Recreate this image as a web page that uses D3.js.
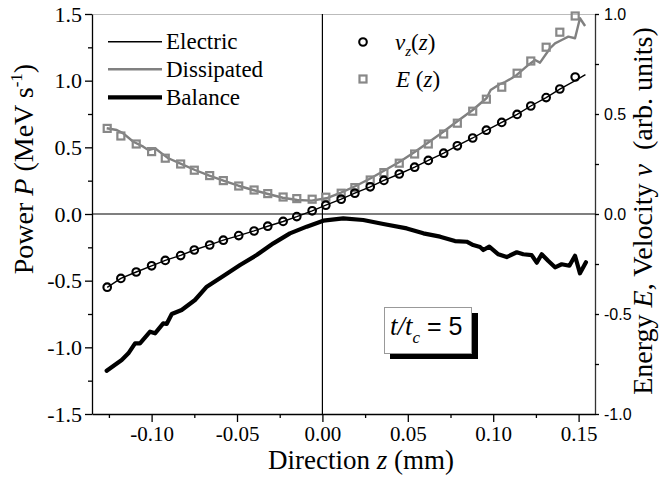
<!DOCTYPE html>
<html>
<head>
<meta charset="utf-8">
<script src="https://cdn.jsdelivr.net/npm/d3@7"></script>
<style>
  html, body { margin: 0; padding: 0; background: #fff; }
  svg { display: block; }
</style>
</head>
<body>
<script>
// 数据：数值
// v_z(z) 圆点与 E(z) 方块（右轴，任意单位）
const zMarker = [-0.126, -0.118, -0.109, -0.100, -0.092, -0.083, -0.075, -0.066, -0.058, -0.049, -0.040,
  -0.032, -0.023, -0.015, -0.006, 0.002, 0.011, 0.019, 0.028, 0.036, 0.045, 0.054,
  0.062, 0.071, 0.079, 0.088, 0.096, 0.105, 0.114, 0.122, 0.131, 0.139, 0.148];
const velocity = [-0.366, -0.322, -0.290, -0.259, -0.232, -0.208, -0.180, -0.155, -0.131, -0.108, -0.085,
  -0.061, -0.037, -0.013, 0.016, 0.044, 0.074, 0.104, 0.136, 0.168, 0.200, 0.234,
  0.268, 0.304, 0.341, 0.380, 0.419, 0.458, 0.498, 0.540, 0.582, 0.625, 0.685];
const energy = [0.428, 0.390, 0.350, 0.312, 0.279, 0.250, 0.219, 0.192, 0.167, 0.140, 0.120,
  0.102, 0.085, 0.077, 0.074, 0.084, 0.104, 0.132, 0.170, 0.207, 0.254, 0.300,
  0.350, 0.400, 0.454, 0.514, 0.574, 0.634, 0.704, 0.765, 0.834, 0.909, 0.990];

// Electric 功率（左轴）
const zElectric = zMarker.concat([0.154]);
const electric = [-0.550, -0.483, -0.435, -0.389, -0.348, -0.310, -0.270, -0.232, -0.196, -0.162, -0.127,
  -0.092, -0.056, -0.020, 0.024, 0.066, 0.111, 0.156, 0.204, 0.252, 0.300, 0.351,
  0.402, 0.456, 0.512, 0.570, 0.628, 0.687, 0.747, 0.810, 0.873, 0.937, 1.000, 1.045];

// Dissipated 功率（左轴）
const zDissipated = [-0.1263, -0.1204, -0.1166, -0.1107, -0.1049, -0.1019, -0.0980, -0.0941, -0.0902, -0.0834,
  -0.0746, -0.0662, -0.0576, -0.0492, -0.0406, -0.0318, -0.0232, -0.0147, -0.0063, 0.0023,
  0.0109, 0.0195, 0.0283, 0.0368, 0.0453, 0.0538, 0.0622, 0.0708, 0.0792, 0.0880,
  0.0962, 0.0985, 0.1040, 0.1069, 0.1108, 0.1138, 0.1206, 0.1245, 0.1274, 0.1333,
  0.1362, 0.1401, 0.1440, 0.1479, 0.1508, 0.1538];
const dissipated = [0.643, 0.630, 0.605, 0.542, 0.505, 0.480, 0.493, 0.455, 0.418, 0.380,
  0.330, 0.287, 0.248, 0.212, 0.180, 0.150, 0.122, 0.105, 0.100, 0.118,
  0.160, 0.210, 0.268, 0.330, 0.392, 0.463, 0.538, 0.617, 0.698, 0.780,
  0.870, 0.930, 0.975, 0.990, 1.018, 1.043, 1.118, 1.155, 1.135, 1.243,
  1.280, 1.305, 1.330, 1.318, 1.468, 1.410];

// Balance 功率（左轴）
const zBalance = [-0.1263, -0.1175, -0.1136, -0.1097, -0.1068, -0.1009, -0.0980, -0.0932, -0.0912, -0.0882,
  -0.0824, -0.0746, -0.0677, -0.0580, -0.0482, -0.0385, -0.0287, -0.0190, -0.0092, 0.0005,
  0.0122, 0.0239, 0.0357, 0.0494, 0.0591, 0.0689, 0.0776, 0.0845, 0.0883, 0.0923,
  0.0942, 0.0977, 0.1030, 0.1079, 0.1138, 0.1176, 0.1225, 0.1255, 0.1284, 0.1323,
  0.1362, 0.1401, 0.1446, 0.1479, 0.1508, 0.1543];
const balance = [-1.175, -1.095, -1.045, -0.970, -0.970, -0.883, -0.895, -0.820, -0.825, -0.750,
  -0.720, -0.645, -0.545, -0.465, -0.383, -0.308, -0.220, -0.145, -0.095, -0.050,
  -0.033, -0.045, -0.075, -0.108, -0.145, -0.170, -0.203, -0.208, -0.233, -0.248,
  -0.270, -0.245, -0.302, -0.323, -0.287, -0.302, -0.308, -0.365, -0.302, -0.353,
  -0.400, -0.377, -0.388, -0.313, -0.445, -0.362];

// 刻度
const xMajor = [-0.10, -0.05, 0.00, 0.05, 0.10, 0.15];
const xMinor = [-0.125, -0.075, -0.025, 0.025, 0.075, 0.125];
const yLeftMajor = [-1.5, -1.0, -0.5, 0.0, 0.5, 1.0, 1.5];
const yLeftMinor = [-1.25, -0.75, -0.25, 0.25, 0.75, 1.25];
const yRightMajor = [-1.0, -0.5, 0.0, 0.5, 1.0];
const yRightMinor = [-0.75, -0.25, 0.25, 0.75];

const width = 659, height = 479;
const plot = { left: 92, right: 595, top: 14, bottom: 414 };
const serif = "'Liberation Serif', 'Times New Roman', serif";
const sans = "'Liberation Sans', Arial, sans-serif";

const svg = d3.select("body").append("svg")
  .attr("width", width)
  .attr("height", height);

const x = d3.scaleLinear().domain([-0.1349, 0.1596]).range([plot.left, plot.right]);
const yL = d3.scaleLinear().domain([-1.5, 1.5]).range([plot.bottom, plot.top]);
const yR = d3.scaleLinear().domain([-1, 1]).range([plot.bottom, plot.top]);

// 顶部边框（浅灰）
svg.append("line")
  .attr("x1", plot.left).attr("x2", plot.right)
  .attr("y1", plot.top + 0.5).attr("y2", plot.top + 0.5)
  .attr("stroke", "#bbb");

// 零线
svg.append("line")
  .attr("x1", plot.left).attr("x2", plot.right)
  .attr("y1", yL(0)).attr("y2", yL(0))
  .attr("stroke", "#000").attr("stroke-width", 1.2);
svg.append("line")
  .attr("x1", x(0)).attr("x2", x(0))
  .attr("y1", plot.top).attr("y2", plot.bottom)
  .attr("stroke", "#000").attr("stroke-width", 1.2);

// 坐标轴
const fmt2 = d => d.toFixed(2);
const fmt1 = d => d.toFixed(1);

const gx = svg.append("g").attr("transform", `translate(0,${plot.bottom})`);
gx.call(d3.axisBottom(x).tickValues(xMajor).tickFormat(fmt2).tickSize(8).tickSizeOuter(0).tickPadding(4));
gx.append("g").call(d3.axisBottom(x).tickValues(xMinor).tickFormat("").tickSize(4).tickSizeOuter(0))
  .select(".domain").remove();

const gl = svg.append("g").attr("transform", `translate(${plot.left},0)`);
gl.call(d3.axisLeft(yL).tickValues(yLeftMajor).tickFormat(fmt1).tickSize(7).tickSizeOuter(0).tickPadding(3));
gl.append("g").call(d3.axisLeft(yL).tickValues(yLeftMinor).tickFormat("").tickSize(4).tickSizeOuter(0))
  .select(".domain").remove();

const gr = svg.append("g").attr("transform", `translate(${plot.right},0)`);
gr.call(d3.axisRight(yR).tickValues(yRightMajor).tickFormat(fmt1).tickSize(4).tickSizeOuter(0).tickPadding(5));
gr.append("g").call(d3.axisRight(yR).tickValues(yRightMinor).tickFormat("").tickSize(4).tickSizeOuter(0))
  .select(".domain").remove();

[gx, gl, gr].forEach(g => {
  g.selectAll("path, line").attr("stroke", "#000").attr("stroke-width", 1.3);
});
gx.selectAll("text").attr("font-family", serif).attr("font-size", 21).attr("fill", "#000");
gl.selectAll("text").attr("font-family", serif).attr("font-size", 22).attr("fill", "#000");
gr.selectAll("text").attr("font-family", sans).attr("font-size", 16).attr("fill", "#000");
gr.select(".domain").attr("stroke", "#333");

// 轴标题
svg.append("text")
  .attr("x", 361).attr("y", 469)
  .attr("text-anchor", "middle")
  .attr("font-family", serif).attr("font-size", 27)
  .call(t => {
    t.append("tspan").text("Direction ");
    t.append("tspan").attr("font-style", "italic").text("z");
    t.append("tspan").text(" (mm)");
  });

svg.append("text")
  .attr("transform", "translate(33,169) rotate(-90)")
  .attr("text-anchor", "middle")
  .attr("font-family", serif).attr("font-size", 28)
  .call(t => {
    t.append("tspan").text("Power ");
    t.append("tspan").attr("font-style", "italic").text("P");
    t.append("tspan").text(" (MeV s");
    t.append("tspan").attr("font-size", 17).attr("dy", -11).text("-1");
    t.append("tspan").attr("dy", 11).text(")");
  });

svg.append("text")
  .attr("transform", "translate(652,211) rotate(-90)")
  .attr("text-anchor", "middle")
  .attr("font-family", serif).attr("font-size", 28)
  .attr("xml:space", "preserve")
  .style("white-space", "pre")
  .call(t => {
    t.append("tspan").text("Energy ");
    t.append("tspan").attr("font-style", "italic").text("E");
    t.append("tspan").text(", Velocity ");
    t.append("tspan").attr("font-style", "italic").text("v");
    t.append("tspan").text("  (arb. units)");
  });

// 曲线
const lineL = d3.line().x(d => x(d[0])).y(d => yL(d[1]));

svg.append("path")
  .datum(d3.zip(zDissipated, dissipated))
  .attr("fill", "none")
  .attr("stroke", "#808080")
  .attr("stroke-width", 2.4)
  .attr("stroke-linejoin", "round")
  .attr("d", lineL);

svg.append("g")
  .selectAll("rect")
  .data(d3.zip(zMarker, energy))
  .join("rect")
  .attr("x", d => x(d[0]) - 3.5)
  .attr("y", d => yR(d[1]) - 3.5)
  .attr("width", 7).attr("height", 7)
  .attr("fill", "none")
  .attr("stroke", "#888")
  .attr("stroke-width", 2.2);

svg.append("path")
  .datum(d3.zip(zElectric, electric))
  .attr("fill", "none")
  .attr("stroke", "#000")
  .attr("stroke-width", 1.4)
  .attr("d", lineL);

svg.append("g")
  .selectAll("circle")
  .data(d3.zip(zMarker, velocity))
  .join("circle")
  .attr("cx", d => x(d[0]))
  .attr("cy", d => yR(d[1]))
  .attr("r", 3.8)
  .attr("fill", "none")
  .attr("stroke", "#000")
  .attr("stroke-width", 2.1);

svg.append("path")
  .datum(d3.zip(zBalance, balance))
  .attr("fill", "none")
  .attr("stroke", "#000")
  .attr("stroke-width", 4.2)
  .attr("stroke-linejoin", "round")
  .attr("stroke-linecap", "round")
  .attr("d", lineL);

// 左上图例
const legendLines = [
  { name: "Electric", color: "#000", w: 1.6, y: 41.7 },
  { name: "Dissipated", color: "#808080", w: 2.4, y: 69.3 },
  { name: "Balance", color: "#000", w: 4.2, y: 97.3 }
];
const lg = svg.append("g");
lg.selectAll("line")
  .data(legendLines)
  .join("line")
  .attr("x1", 108).attr("x2", 162)
  .attr("y1", d => d.y).attr("y2", d => d.y)
  .attr("stroke", d => d.color)
  .attr("stroke-width", d => d.w);
lg.selectAll("text")
  .data(legendLines)
  .join("text")
  .attr("x", 166).attr("y", d => d.y + 7.5)
  .attr("font-family", serif).attr("font-size", 23)
  .text(d => d.name);

// 右上图例
svg.append("circle")
  .attr("cx", 363).attr("cy", 42).attr("r", 3.8)
  .attr("fill", "none").attr("stroke", "#000").attr("stroke-width", 2.1);
svg.append("rect")
  .attr("x", 359.5).attr("y", 75.5).attr("width", 7).attr("height", 7)
  .attr("fill", "none").attr("stroke", "#888").attr("stroke-width", 2.2);

svg.append("text")
  .attr("x", 395).attr("y", 50)
  .attr("font-family", serif).attr("font-size", 23)
  .call(t => {
    t.append("tspan").attr("font-style", "italic").text("v");
    t.append("tspan").attr("font-style", "italic").attr("font-size", 15).attr("dy", 6).text("z");
    t.append("tspan").attr("dy", -6).text("(");
    t.append("tspan").attr("font-style", "italic").text("z");
    t.append("tspan").text(")");
  });
svg.append("text")
  .attr("x", 396).attr("y", 87)
  .attr("font-family", serif).attr("font-size", 23)
  .call(t => {
    t.append("tspan").attr("font-style", "italic").text("E");
    t.append("tspan").text(" (");
    t.append("tspan").attr("font-style", "italic").text("z");
    t.append("tspan").text(")");
  });

// 注释框 t/t_c = 5
svg.append("rect")
  .attr("x", 390).attr("y", 313).attr("width", 88).attr("height", 46)
  .attr("fill", "#000");
svg.append("rect")
  .attr("x", 384.5).attr("y", 307.5).attr("width", 87).attr("height", 46)
  .attr("fill", "#fff").attr("stroke", "#999").attr("stroke-width", 1);
svg.append("text")
  .attr("x", 390).attr("y", 335)
  .attr("font-family", serif).attr("font-size", 27)
  .call(t => {
    t.append("tspan").attr("font-style", "italic").text("t/t");
    t.append("tspan").attr("font-style", "italic").attr("font-size", 17).attr("dy", 8).text("c");
    t.append("tspan").attr("dy", -8).attr("font-family", sans).attr("font-size", 25).text(" = 5");
  });
</script>
</body>
</html>
